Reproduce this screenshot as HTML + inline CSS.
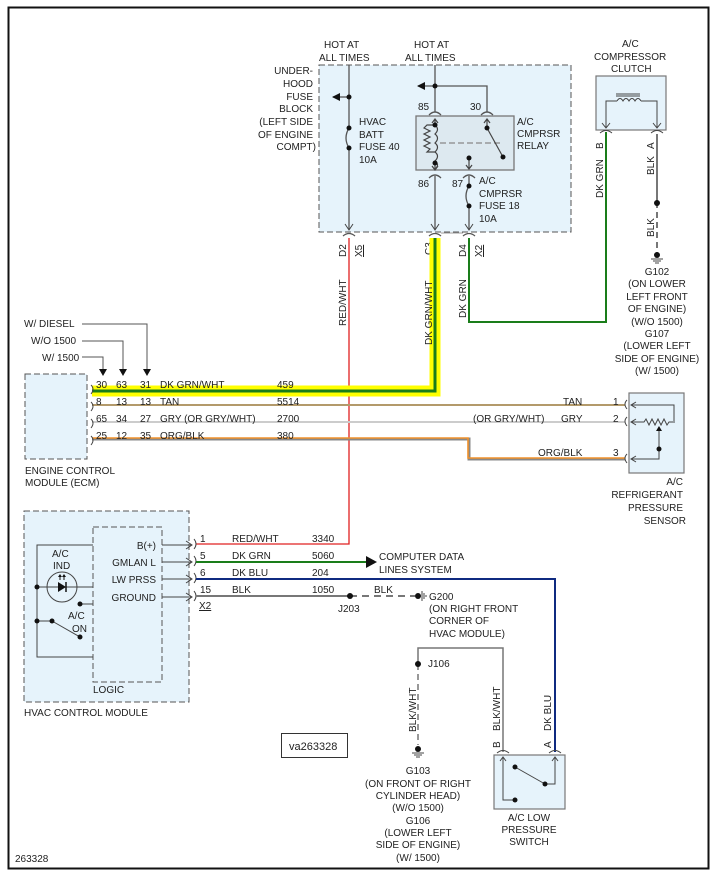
<!DOCTYPE html>
<html><head><meta charset="utf-8"><style>
html,body{margin:0;padding:0;background:#fff}
svg{display:block}
text{font-family:"Liberation Sans",Arial,sans-serif;font-size:10px;fill:#222}
</style></head><body>
<svg width="720" height="879" viewBox="0 0 720 879" xmlns="http://www.w3.org/2000/svg">
<defs>
<marker id="ah" markerWidth="8" markerHeight="8" refX="7" refY="4" orient="auto" markerUnits="userSpaceOnUse"><path d="M0,0 L8,4 L0,8 z" fill="#111"/></marker>
<marker id="oa" markerWidth="10" markerHeight="10" refX="8" refY="5" orient="auto" markerUnits="userSpaceOnUse"><path d="M2,1 L8,5 L2,9" fill="none" stroke="#444" stroke-width="1"/></marker>
</defs>
<rect x="8.5" y="7.5" width="700" height="861" fill="#fff" stroke="#111" stroke-width="2"/>

<!-- fuse block -->
<rect x="319" y="65" width="252" height="167" fill="#e6f3fb" stroke="#555" stroke-dasharray="6,3"/>
<text x="324" y="48" >HOT AT</text><text x="319" y="61">ALL TIMES</text>
<text x="414" y="48">HOT AT</text><text x="405" y="61">ALL TIMES</text>
<g text-anchor="end"><text x="313" y="74">UNDER-</text><text x="313" y="87">HOOD</text><text x="313" y="100">FUSE</text><text x="313" y="112">BLOCK</text><text x="313" y="125">(LEFT SIDE</text><text x="313" y="138">OF ENGINE</text><text x="316" y="150">COMPT)</text></g>
<g stroke="#555" fill="none" stroke-width="1.3">
<line x1="349" y1="65" x2="349" y2="128"/><path d="M349,128 q-6,10 0,20"/><line x1="349" y1="148" x2="349" y2="229"/>
<line x1="349" y1="97" x2="333" y2="97" marker-end="url(#ah)"/>
<line x1="435" y1="65" x2="435" y2="112"/>
<line x1="435" y1="86" x2="418" y2="86" marker-end="url(#ah)"/>
<polyline points="435,86 487,86 487,112"/>
<path d="M429,115 q6,-6 12,0 M481,115 q6,-6 12,0 M429,178 q6,-6 12,0 M463,178 q6,-6 12,0"/>
<line x1="435" y1="176" x2="435" y2="229"/>
<line x1="469" y1="176" x2="469" y2="186"/><path d="M469,186 q-6,10 0,20"/><line x1="469" y1="206" x2="469" y2="229"/>
<path d="M343,236 q6,-5 12,0 M429,236 q6,-5 12,0 M463,236 q6,-5 12,0"/>
<line x1="441" y1="233" x2="463" y2="233" stroke="#777" stroke-width="0.8"/>
</g>
<g stroke="#444" fill="none"><path d="M345,224 l4,6 l4,-6 M431,224 l4,6 l4,-6 M465,224 l4,6 l4,-6"/></g>
<circle cx="349" cy="97" r="2.5" fill="#111"/><circle cx="349" cy="128" r="2.5" fill="#111"/><circle cx="349" cy="148" r="2.5" fill="#111"/>
<circle cx="435" cy="86" r="2.5" fill="#111"/><circle cx="469" cy="186" r="2.5" fill="#111"/><circle cx="469" cy="206" r="2.5" fill="#111"/>
<text x="359" y="125">HVAC</text><text x="359" y="138">BATT</text><text x="359" y="150">FUSE 40</text><text x="359" y="163">10A</text>
<text x="418" y="110">85</text><text x="470" y="110">30</text><text x="418" y="187">86</text><text x="452" y="187">87</text>
<text x="517" y="125">A/C</text><text x="517" y="137">CMPRSR</text><text x="517" y="149">RELAY</text>
<text x="479" y="184">A/C</text><text x="479" y="197">CMPRSR</text><text x="479" y="209">FUSE 18</text><text x="479" y="222">10A</text>
<!-- relay -->
<rect x="416" y="116" width="98" height="54" fill="#dde9f0" stroke="#777" stroke-width="1.3"/>
<g stroke="#444" fill="none" stroke-width="1.2">
<path d="M435,119 v5 M432,123 l3,-4 l3,4 M435,165 v4 M432,166 l3,4 l3,-4"/>
<path d="M435,125 h-8 l-3,3 l6,3 l-6,3 l6,3 l-6,3 l6,3 l-6,3 l6,3 l-3,3 h8"/>
<path d="M435,125 q5,4 0,9 q5,4 0,9 q5,4 0,9 q5,4 0,9 q5,4 0,8"/>
<line x1="440" y1="143" x2="500" y2="143" stroke-dasharray="6,3" stroke="#888"/>
<path d="M487,119 v9 M484,123 l3,-4 l3,4 M487,128 L503,157"/>
<path d="M469,158 v10 M466,165 l3,4 l3,-4"/>
</g>
<circle cx="435" cy="125" r="2.5" fill="#111"/><circle cx="435" cy="163" r="2.5" fill="#111"/><circle cx="487" cy="128" r="2.5" fill="#111"/><circle cx="503" cy="157" r="2.5" fill="#111"/><circle cx="469" cy="158" r="2.5" fill="#111"/>
<g transform="translate(346,257) rotate(-90)"><text>D2</text></g>
<g transform="translate(362,257) rotate(-90)"><text text-decoration="underline">X5</text></g>
<g transform="translate(432,255) rotate(-90)"><text>C3</text></g>
<g transform="translate(466,257) rotate(-90)"><text>D4</text></g>
<g transform="translate(482,257) rotate(-90)"><text text-decoration="underline">X2</text></g>
<g transform="translate(346,326) rotate(-90)"><text>RED/WHT</text></g>
<g transform="translate(466,318) rotate(-90)"><text>DK GRN</text></g>

<!-- wires -->
<polyline points="349,238 349,544 196,544" fill="none" stroke="#e02020" stroke-width="1.3"/>
<polyline points="435,238 435,391 92,391" fill="none" stroke="#ffff00" stroke-width="11"/>
<polyline points="435,238 435,391 92,391" fill="none" stroke="#1a7d1a" stroke-width="3"/>
<g transform="translate(432,345) rotate(-90)"><text>DK GRN/WHT</text></g>
<polyline points="469,238 469,322 606,322 606,132" fill="none" stroke="#1a7d1a" stroke-width="2"/>
<line x1="92" y1="405" x2="625" y2="405" stroke="#b39a6b" stroke-width="2"/>
<line x1="92" y1="422" x2="625" y2="422" stroke="#cccccc" stroke-width="2"/>
<polyline points="92,439 469,439 469,459 625,459" fill="none" stroke="#888" stroke-width="3"/>
<polyline points="92,438 468,438 468,458 625,458" fill="none" stroke="#f0912a" stroke-width="1.6"/>

<!-- labels left -->
<text x="24" y="327">W/ DIESEL</text><text x="31" y="344">W/O 1500</text><text x="42" y="361">W/ 1500</text>
<g stroke="#555" fill="none"><polyline points="82,324 147,324 147,370"/><polyline points="82,341 123,341 123,370"/><polyline points="82,357 103,357 103,370"/></g>
<g fill="#111"><path d="M99,369 h8 l-4,7z M119,369 h8 l-4,7z M143,369 h8 l-4,7z"/></g>
<rect x="25" y="374" width="62" height="85" fill="#e6f3fb" stroke="#555" stroke-dasharray="6,3"/>
<text x="25" y="474">ENGINE CONTROL</text><text x="25" y="486">MODULE (ECM)</text>
<g stroke="#444" fill="none"><path d="M91,385 q4,4 0,9 M91,402 q4,4 0,9 M91,419 q4,4 0,9 M91,436 q4,4 0,9"/></g>
<text x="96" y="388">30</text><text x="116" y="388">63</text><text x="140" y="388">31</text><text x="160" y="388">DK GRN/WHT</text><text x="277" y="388">459</text>
<text x="96" y="405">8</text><text x="116" y="405">13</text><text x="140" y="405">13</text><text x="160" y="405">TAN</text><text x="277" y="405">5514</text>
<text x="96" y="422">65</text><text x="116" y="422">34</text><text x="140" y="422">27</text><text x="160" y="422">GRY  (OR GRY/WHT)</text><text x="277" y="422">2700</text>
<text x="96" y="439">25</text><text x="116" y="439">12</text><text x="140" y="439">35</text><text x="160" y="439">ORG/BLK</text><text x="277" y="439">380</text>

<!-- sensor -->
<text x="563" y="405">TAN</text><text x="613" y="405">1</text>
<text x="473" y="422">(OR GRY/WHT)</text><text x="561" y="422">GRY</text><text x="613" y="422">2</text>
<text x="538" y="456">ORG/BLK</text><text x="613" y="456">3</text>
<rect x="629" y="393" width="55" height="80" fill="#e6f3fb" stroke="#777" stroke-width="1.2"/>
<g stroke="#444" fill="none"><path d="M627,400 q-4,4 0,9 M627,417 q-4,4 0,9 M627,454 q-4,4 0,9"/>
<path d="M631,405 h5 M636,402 l-5,3 l5,3 M631,422 h5 M636,419 l-5,3 l5,3 M631,459 h5 M636,456 l-5,3 l5,3"/>
<polyline points="636,405 674,405 674,423"/><path d="M636,422 h8 l2,-3 l3,6 l3,-6 l3,6 l3,-6 l3,6 l3,-6 l3,6 l2,-3 h4"/>
<polyline points="636,459 659,459 659,430"/></g>
<path d="M656,431 h6 l-3,-5z" fill="#111"/><circle cx="659" cy="449" r="2.5" fill="#111"/>
<g text-anchor="end"><text x="683" y="485">A/C</text><text x="683" y="498">REFRIGERANT</text><text x="683" y="511">PRESSURE</text><text x="686" y="524">SENSOR</text></g>

<!-- clutch -->
<text x="622" y="47">A/C</text><text x="594" y="60">COMPRESSOR</text><text x="611" y="72">CLUTCH</text>
<rect x="596" y="76" width="70" height="54" fill="#e6f3fb" stroke="#777" stroke-width="1.2"/>
<g stroke="#444" fill="none"><polyline points="606,127 606,101 617,101"/><path d="M617,101 q3,-5 6,0 q3,-5 6,0 q3,-5 6,0 q3,-5 6,0"/><polyline points="641,101 657,101 657,127"/>
<path d="M616,96 h24 M616,94 h24"/><path d="M602,123 l4,5 l4,-5 M653,123 l4,5 l4,-5 M600,133 q6,-5 12,0 M651,133 q6,-5 12,0"/></g>
<line x1="657" y1="134" x2="657" y2="202" stroke="#777" stroke-width="2"/>
<line x1="657" y1="202" x2="657" y2="255" stroke="#777" stroke-width="2" stroke-dasharray="6,4"/>
<circle cx="657" cy="203" r="3" fill="#111"/><circle cx="657" cy="255" r="3" fill="#111"/>
<path d="M651,259 h12 M653,261 h8 M655,263 h4" stroke="#444"/>
<g transform="translate(603,149) rotate(-90)"><text>B</text></g><g transform="translate(603,198) rotate(-90)"><text>DK GRN</text></g>
<g transform="translate(654,149) rotate(-90)"><text>A</text></g><g transform="translate(654,175) rotate(-90)"><text>BLK</text></g>
<g transform="translate(654,237) rotate(-90)"><text>BLK</text></g>
<g text-anchor="middle"><text x="657" y="275">G102</text><text x="657" y="287">(ON LOWER</text><text x="657" y="300">LEFT FRONT</text><text x="657" y="312">OF ENGINE)</text><text x="657" y="325">(W/O 1500)</text><text x="657" y="337">G107</text><text x="657" y="349">(LOWER LEFT</text><text x="657" y="362">SIDE OF ENGINE)</text><text x="657" y="374">(W/ 1500)</text></g>

<!-- HVAC module -->
<rect x="24" y="511" width="165" height="191" fill="#e6f3fb" stroke="#555" stroke-dasharray="6,3"/>
<rect x="93" y="527" width="69" height="155" fill="#e6f3fb" stroke="#555" stroke-dasharray="6,3"/>
<text x="93" y="693">LOGIC</text><text x="24" y="716">HVAC CONTROL MODULE</text>
<g text-anchor="end"><text x="156" y="549">B(+)</text><text x="156" y="566">GMLAN L</text><text x="156" y="583">LW PRSS</text><text x="156" y="601">GROUND</text></g>
<g stroke="#444" fill="none"><path d="M162,545 h30 M162,562 h30 M162,579 h30 M162,597 h30"/>
<path d="M186,541 l6,4 l-6,4 M186,558 l6,4 l-6,4 M186,575 l6,4 l-6,4 M186,593 l6,4 l-6,4"/>
<path d="M194,539 q4,5 0,10 M194,556 q4,5 0,10 M194,573 q4,5 0,10 M194,591 q4,5 0,10"/>
<polyline points="93,545 37,545 37,657 93,657"/><path d="M37,587 h56"/><circle cx="62" cy="587" r="15"/><path d="M80,604 h13"/><line x1="52" y1="621" x2="80" y2="637"/>
<path d="M37,621 h15"/></g>
<path d="M58,582 v10 l8,-5z" fill="#111"/><line x1="66" y1="582" x2="66" y2="592" stroke="#111" stroke-width="1.5"/>
<path d="M60,580 v-5 M64,580 v-5" stroke="#111"/><path d="M58,577 l2,-3 l2,3 M62,577 l2,-3 l2,3" fill="#111"/>
<circle cx="37" cy="587" r="2.5" fill="#111"/><circle cx="37" cy="621" r="2.5" fill="#111"/><circle cx="52" cy="621" r="2.5" fill="#111"/><circle cx="80" cy="604" r="2.5" fill="#111"/><circle cx="80" cy="637" r="2.5" fill="#111"/>
<text x="52" y="557">A/C</text><text x="53" y="569">IND</text><text x="68" y="619">A/C</text><text x="72" y="632">ON</text>

<line x1="196" y1="562" x2="367" y2="562" stroke="#1a7d1a" stroke-width="2"/>
<path d="M366,556 l11,6 l-11,6z" fill="#111"/>
<polyline points="196,579 555,579 555,752" fill="none" stroke="#0f2a80" stroke-width="2"/>
<line x1="196" y1="596" x2="350" y2="596" stroke="#777" stroke-width="2"/>
<line x1="350" y1="596" x2="415" y2="596" stroke="#777" stroke-width="2" stroke-dasharray="7,5"/>
<circle cx="350" cy="596" r="3" fill="#111"/><circle cx="418" cy="596" r="3" fill="#111"/>
<path d="M422,591 v10 M424,593 v6 M426,595 v2" stroke="#444"/>
<text x="200" y="542">1</text><text x="232" y="542">RED/WHT</text><text x="312" y="542">3340</text>
<text x="200" y="559">5</text><text x="232" y="559">DK GRN</text><text x="312" y="559">5060</text>
<text x="200" y="576">6</text><text x="232" y="576">DK BLU</text><text x="312" y="576">204</text>
<text x="200" y="593">15</text><text x="232" y="593">BLK</text><text x="312" y="593">1050</text>
<text x="199" y="609" text-decoration="underline">X2</text><text x="338" y="612">J203</text><text x="374" y="593">BLK</text>
<text x="379" y="560">COMPUTER DATA</text><text x="379" y="573">LINES SYSTEM</text>
<text x="429" y="600">G200</text><text x="429" y="612">(ON RIGHT FRONT</text><text x="429" y="624">CORNER OF</text><text x="429" y="637">HVAC MODULE)</text>

<polyline points="418,664 418,648 503,648 503,752" fill="none" stroke="#777" stroke-width="1.5"/>
<line x1="418" y1="664" x2="418" y2="745" stroke="#777" stroke-width="1.5" stroke-dasharray="6,4"/>
<circle cx="418" cy="664" r="3" fill="#111"/><circle cx="418" cy="749" r="3" fill="#111"/>
<path d="M412,753 h12 M414,755 h8 M416,757 h4" stroke="#444"/>
<text x="428" y="667">J106</text>
<g transform="translate(416,732) rotate(-90)"><text>BLK/WHT</text></g>
<g transform="translate(500,731) rotate(-90)"><text>BLK/WHT</text></g>
<g transform="translate(500,748) rotate(-90)"><text>B</text></g>
<g transform="translate(551,731) rotate(-90)"><text>DK BLU</text></g>
<g transform="translate(551,748) rotate(-90)"><text>A</text></g>
<g text-anchor="middle"><text x="418" y="774">G103</text><text x="418" y="787">(ON FRONT OF RIGHT</text><text x="418" y="799">CYLINDER HEAD)</text><text x="418" y="811">(W/O 1500)</text><text x="418" y="824">G106</text><text x="418" y="836">(LOWER LEFT</text><text x="418" y="848">SIDE OF ENGINE)</text><text x="418" y="861">(W/ 1500)</text>
<text x="529" y="821">A/C LOW</text><text x="529" y="833">PRESSURE</text><text x="529" y="845">SWITCH</text></g>
<rect x="494" y="755" width="71" height="54" fill="#e6f3fb" stroke="#777" stroke-width="1.2"/>
<g stroke="#444" fill="none"><path d="M497,753 q6,-5 12,0 M549,753 q6,-5 12,0"/>
<polyline points="503,757 503,800 515,800"/><polyline points="555,757 555,784 545,784"/><line x1="515" y1="767" x2="545" y2="784"/>
<path d="M500,761 l3,-4 l3,4 M552,761 l3,-4 l3,4"/></g>
<circle cx="515" cy="767" r="2.5" fill="#111"/><circle cx="545" cy="784" r="2.5" fill="#111"/><circle cx="515" cy="800" r="2.5" fill="#111"/>

<rect x="281.5" y="733.5" width="66" height="24" fill="#fff" stroke="#333"/>
<text x="289" y="750" style="font-size:11px">va263328</text>
<text x="15" y="862">263328</text>
</svg>
</body></html>
